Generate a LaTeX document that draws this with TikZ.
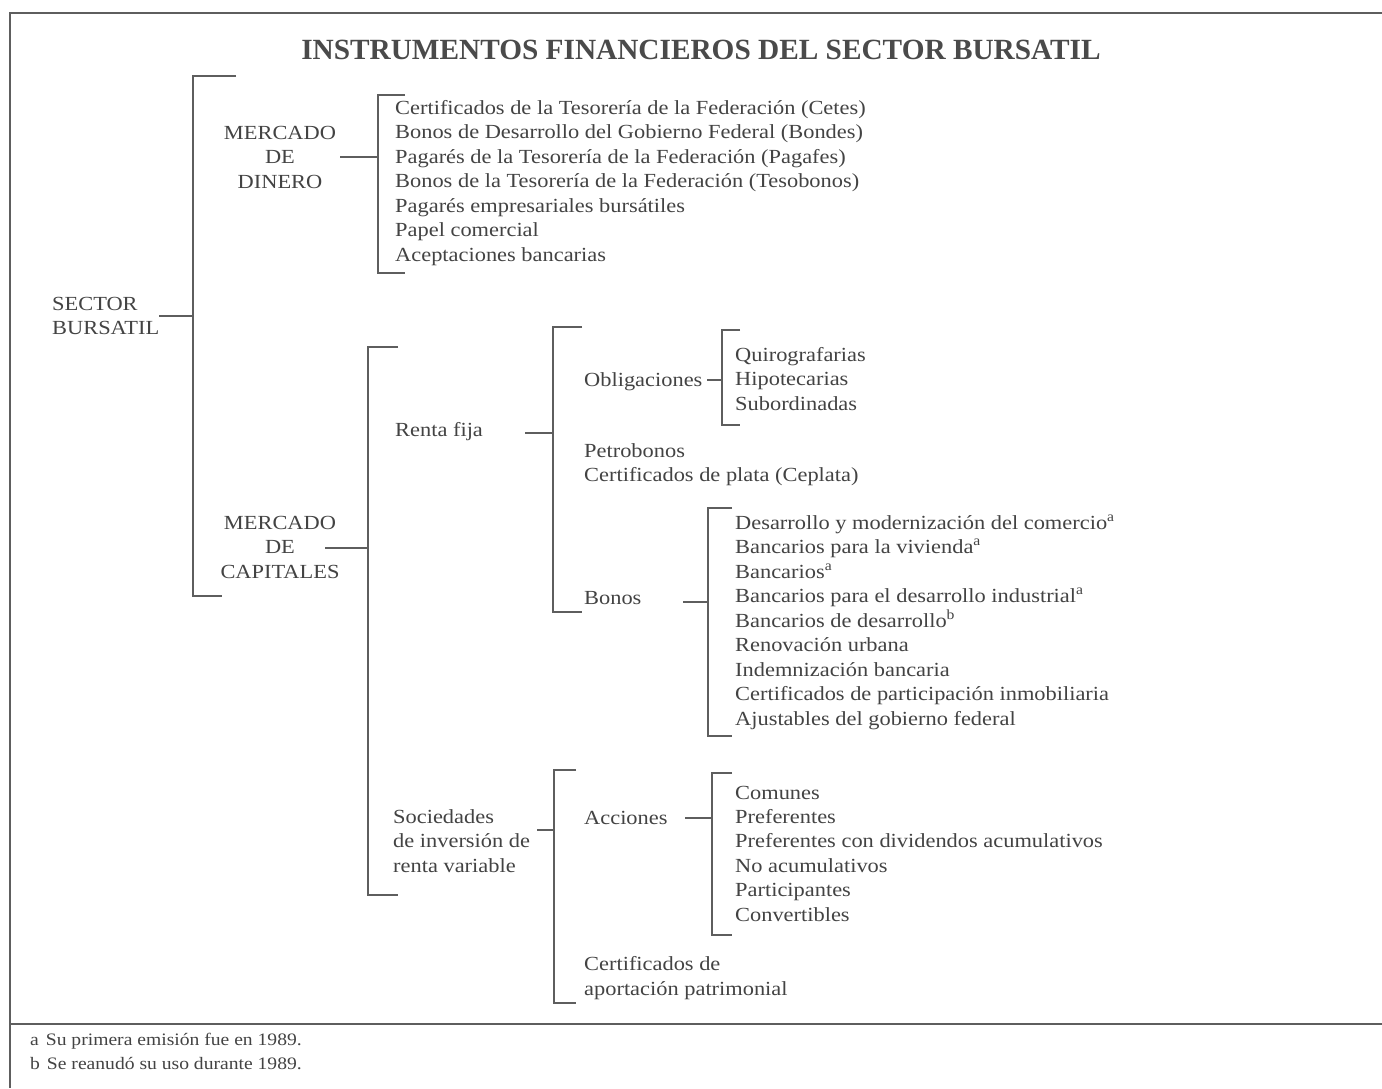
\documentclass[tikz,border=0pt]{standalone}
\usepackage{fontspec}
\setmainfont{Liberation Serif}
\newfontfamily\bodyfont[FakeStretch=1.12]{Liberation Serif}
\definecolor{ink}{HTML}{434343}
\definecolor{titleink}{HTML}{4A4A4A}
\definecolor{rule}{HTML}{5E5E5E}
\newcommand\brk[6]{% name, x, top, bottom, top tick end, bottom tick end
  \coordinate (#1t) at (#2,#3);
  \coordinate (#1b) at (#2,#4);
  \coordinate (#1tt) at (#5,#3);
  \coordinate (#1bt) at (#6,#4);
  \draw[br] (#1tt) -- (#1t) -- (#1b) -- (#1bt);}
\begin{document}
\begin{tikzpicture}[x=1pt,y=-1pt,
  txt/.style={inner sep=0pt, text=ink, font=\bodyfont\fontsize{20}{24.5}\selectfont},
  item/.style={txt, anchor=base west},
  multi/.style={txt, align=#1},
  br/.style={draw=rule, line width=2.2pt, line cap=butt, line join=miter},
  frame/.style={draw=rule, line width=2.6pt},
  foot/.style={inner sep=0pt, text=ink, font=\bodyfont\fontsize{17.5}{24}\selectfont, anchor=base west}]

\useasboundingbox[fill=white] (0,0) rectangle (1382,1088);

% frame
\coordinate (fTL) at (10,13);
\coordinate (fTR) at (1382,13);
\coordinate (fBL) at (10,1088);
\coordinate (fFL) at (10,1024);
\coordinate (fFR) at (1382,1024);
\draw[frame] (fTR) -- (fTL) -- (fBL);
\draw[frame, line width=1.8pt] (fFL) -- (fFR);

% title
\node[inner sep=0pt, text=titleink, font=\fontsize{29.3}{31}\selectfont\bfseries] (title) at (701,50) {INSTRUMENTOS FINANCIEROS DEL SECTOR BURSATIL};

% root
\node[multi=left, anchor=west] (sector) at (52,316) {SECTOR\\BURSATIL};
\brk{A}{193}{76}{596}{236}{222}
\coordinate (Aj) at (193,316);
\coordinate (As) at (159,316);
\draw[br] (As) -- (Aj);

% mercado de dinero
\node[multi=center] (dinero) at (280,157) {MERCADO\\DE\\DINERO};
\brk{B}{378}{95}{273}{405}{405}
\coordinate (Bj) at (378,157);
\coordinate (Bs) at (340,157);
\draw[br] (Bs) -- (Bj);
\foreach \t [count=\i from 0] in {
  {Certificados de la Tesorería de la Federación (Cetes)},
  {Bonos de Desarrollo del Gobierno Federal (Bondes)},
  {Pagarés de la Tesorería de la Federación (Pagafes)},
  {Bonos de la Tesorería de la Federación (Tesobonos)},
  {Pagarés empresariales bursátiles},
  {Papel comercial},
  {Aceptaciones bancarias}}
  \node[item] (din\i) at (395,{114+24.5*\i}) {\t};

% mercado de capitales
\node[multi=center] (capitales) at (280,547) {MERCADO\\DE\\CAPITALES};
\brk{C}{368}{347}{895}{398}{398}
\coordinate (Cj) at (368,548);
\coordinate (Cs) at (325,548);
\draw[br] (Cs) -- (Cj);

% renta fija
\node[item] (renta) at (395,436) {Renta fija};
\brk{D}{553}{327}{612}{582}{582}
\coordinate (Dj) at (553,433);
\coordinate (Ds) at (525,433);
\draw[br] (Ds) -- (Dj);

% obligaciones
\node[item] (oblig) at (584,386) {Obligaciones};
\brk{E}{722}{330}{425}{740}{740}
\coordinate (Ej) at (722,380);
\coordinate (Es) at (707,380);
\draw[br] (Es) -- (Ej);
\foreach \t [count=\i from 0] in {Quirografarias, Hipotecarias, Subordinadas}
  \node[item] (obl\i) at (735,{361+24.5*\i}) {\t};

\node[item] (petro) at (584,457) {Petrobonos};
\node[item] (ceplata) at (584,481.5) {Certificados de plata (Ceplata)};

% bonos
\node[item] (bonos) at (584,604) {Bonos};
\brk{F}{708}{508}{736}{732}{732}
\coordinate (Fj) at (708,602);
\coordinate (Fs) at (683,602);
\draw[br] (Fs) -- (Fj);
\foreach \t [count=\i from 0] in {
  {Desarrollo y modernización del comercio\textsuperscript{a}},
  {Bancarios para la vivienda\textsuperscript{a}},
  {Bancarios\textsuperscript{a}},
  {Bancarios para el desarrollo industrial\textsuperscript{a}},
  {Bancarios de desarrollo\textsuperscript{b}},
  {Renovación urbana},
  {Indemnización bancaria},
  {Certificados de participación inmobiliaria},
  {Ajustables del gobierno federal}}
  \node[item] (bon\i) at (735,{529+24.5*\i}) {\t};

% sociedades
\node[multi=left, anchor=west] (soc) at (393,841) {Sociedades\\de inversión de\\renta variable};
\brk{G}{554}{770}{1003}{576}{576}
\coordinate (Gj) at (554,830);
\coordinate (Gs) at (537,830);
\draw[br] (Gs) -- (Gj);

% acciones
\node[item] (acc) at (584,824) {Acciones};
\brk{H}{712}{773}{935}{732}{732}
\coordinate (Hj) at (712,818);
\coordinate (Hs) at (685,818);
\draw[br] (Hs) -- (Hj);
\foreach \t [count=\i from 0] in {Comunes, Preferentes,
  {Preferentes con dividendos acumulativos}, {No acumulativos},
  Participantes, Convertibles}
  \node[item] (acc\i) at (735,{799+24.4*\i}) {\t};

\node[multi=left, anchor=west] (cap) at (584,978) {Certificados de\\aportación patrimonial};

% footnotes
\node[foot] (fa) at (30,1045) {a\hspace{0.4em}Su primera emisión fue en 1989.};
\node[foot] (fb) at (30,1069) {b\hspace{0.4em}Se reanudó su uso durante 1989.};
\end{tikzpicture}
\end{document}
